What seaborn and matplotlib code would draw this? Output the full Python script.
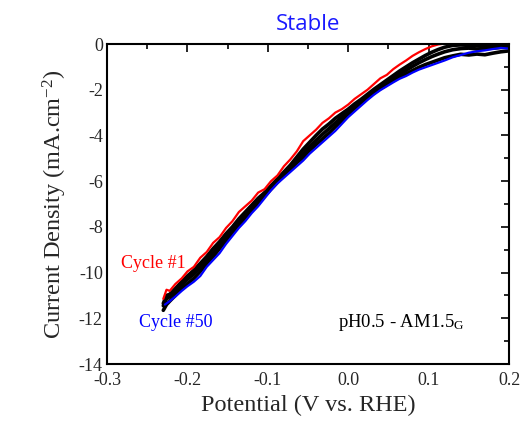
import matplotlib
matplotlib.use("Agg")
import matplotlib.pyplot as plt
import seaborn as sns
from matplotlib.ticker import MultipleLocator

# ---- data ----
pot = [-0.230, -0.226, -0.222, -0.215, -0.207, -0.200,
       -0.192, -0.184, -0.176, -0.168, -0.160, -0.152, -0.144, -0.136, -0.128, -0.120,
       -0.112, -0.104, -0.096, -0.088, -0.080, -0.072, -0.064, -0.056, -0.048, -0.040,
       -0.032, -0.024, -0.016, -0.008, 0.000, 0.008, 0.016, 0.024, 0.032, 0.040,
       0.048, 0.056, 0.064, 0.072, 0.080, 0.088, 0.096, 0.104, 0.112,
       0.120, 0.130, 0.140, 0.150, 0.160, 0.170, 0.180, 0.190, 0.200]

cycle1 = [-11.15, -10.75, -10.80, -10.50, -10.25, -9.95,
          -9.75, -9.35, -9.10, -8.70, -8.45, -8.05, -7.75, -7.35, -7.10, -6.85,
          -6.50, -6.35, -6.00, -5.75, -5.35, -5.05, -4.70, -4.25, -4.00, -3.75,
          -3.45, -3.25, -3.00, -2.85, -2.65, -2.40, -2.20, -2.00, -1.75, -1.50,
          -1.35, -1.10, -0.90, -0.72, -0.52, -0.36, -0.22, -0.10, -0.02,
          0.02, 0.05, 0.04, 0.05, 0.03, 0.04, 0.03, 0.02, 0.03]

mid_a = [-11.35, -11.00, -10.95, -10.70, -10.40, -10.15,
         -9.90, -9.60, -9.30, -8.95, -8.65, -8.30, -8.00, -7.65, -7.35, -7.05,
         -6.75, -6.50, -6.20, -5.90, -5.60, -5.30, -4.95, -4.60, -4.30, -4.00,
         -3.72, -3.50, -3.25, -3.05, -2.85, -2.62, -2.42, -2.20, -1.98, -1.78,
         -1.58, -1.38, -1.18, -1.00, -0.82, -0.66, -0.50, -0.36, -0.24,
         -0.14, -0.06, -0.04, -0.06, -0.08, -0.10, -0.12, -0.10, -0.08]

mid_c = [-11.45, -11.15, -11.05, -10.85, -10.55, -10.30,
         -10.05, -9.75, -9.45, -9.15, -8.80, -8.45, -8.15, -7.80, -7.50, -7.20,
         -6.90, -6.60, -6.30, -6.00, -5.70, -5.40, -5.10, -4.80, -4.50, -4.22,
         -3.95, -3.70, -3.45, -3.20, -2.98, -2.75, -2.52, -2.30, -2.08, -1.88,
         -1.68, -1.50, -1.32, -1.15, -0.98, -0.82, -0.68, -0.55, -0.44,
         -0.34, -0.25, -0.20, -0.18, -0.22, -0.20, -0.18, -0.15, -0.14]

mid_b = [-11.65, -11.40, -11.25, -11.00, -10.70, -10.50,
         -10.25, -9.95, -9.60, -9.30, -8.95, -8.60, -8.25, -7.95, -7.60, -7.30,
         -6.95, -6.65, -6.35, -6.05, -5.75, -5.50, -5.20, -4.95, -4.65, -4.40,
         -4.15, -3.90, -3.62, -3.35, -3.08, -2.82, -2.58, -2.35, -2.15, -1.95,
         -1.78, -1.60, -1.45, -1.30, -1.16, -1.02, -0.90, -0.80, -0.70,
         -0.60, -0.52, -0.45, -0.48, -0.44, -0.47, -0.40, -0.34, -0.30]

pot50 = [-0.228, -0.222, -0.215, -0.207, -0.200,
         -0.192, -0.184, -0.176, -0.168, -0.160, -0.152, -0.144, -0.136, -0.128, -0.120,
         -0.112, -0.104, -0.096, -0.088, -0.080, -0.072, -0.064, -0.056, -0.048, -0.040,
         -0.032, -0.024, -0.016, -0.008, 0.000, 0.008, 0.016, 0.024, 0.032, 0.040,
         0.048, 0.056, 0.064, 0.072, 0.080, 0.088, 0.096, 0.104, 0.112,
         0.120, 0.130, 0.140, 0.150, 0.160, 0.170, 0.180, 0.190, 0.200]

cycle50 = [-11.40, -11.25, -11.05, -10.80, -10.60,
           -10.40, -10.15, -9.75, -9.45, -9.15, -8.75, -8.40, -8.05, -7.75, -7.40,
           -7.10, -6.75, -6.40, -6.10, -5.85, -5.60, -5.35, -5.10, -4.80, -4.55,
           -4.30, -4.05, -3.80, -3.50, -3.20, -2.95, -2.70, -2.45, -2.22, -2.02,
           -1.85, -1.68, -1.52, -1.40, -1.25, -1.12, -1.02, -0.92, -0.82,
           -0.72, -0.58, -0.48, -0.38, -0.32, -0.28, -0.22, -0.17, -0.20]

xticks = [-0.3, -0.2, -0.1, 0.0, 0.1, 0.2]
yticks = [0, -2, -4, -6, -8, -10, -12, -14]

# ---- figure ----
sns.set_style("white")
plt.rcParams["font.family"] = ["Liberation Serif", "DejaVu Serif"]
plt.rcParams["mathtext.fontset"] = "custom"
plt.rcParams["mathtext.rm"] = "Liberation Serif"
plt.rcParams["mathtext.it"] = "Liberation Serif:italic"
plt.rcParams["mathtext.bf"] = "Liberation Serif:bold"

fig = plt.figure(figsize=(5.29, 4.26), dpi=100)
ax = fig.add_axes([0.2023, 0.1455, 0.7599, 0.7512])

for ys in (mid_a, mid_c, mid_b):
    sns.lineplot(x=pot, y=ys, ax=ax, sort=False, estimator=None, color="black", lw=2.6)
sns.lineplot(x=pot, y=cycle1, ax=ax, sort=False, estimator=None, color="#ff0000", lw=1.6)
sns.lineplot(x=pot50, y=cycle50, ax=ax, sort=False, estimator=None, color="#0000ff", lw=1.6)

ax.set_xlim(-0.3, 0.2)
ax.set_ylim(-14, 0)
ax.set_xticks(xticks)
ax.set_xticklabels([f"{t:.1f}" for t in xticks])
ax.set_yticks(yticks)
ax.set_yticklabels([f"{t:d}" for t in yticks])
ax.xaxis.set_minor_locator(MultipleLocator(0.05))
ax.yaxis.set_minor_locator(MultipleLocator(1))
ax.tick_params(which="both", direction="in", top=True, right=True, width=1.2,
               labelsize=13, color="black")
ax.tick_params(which="major", length=6)
ax.tick_params(which="minor", length=3.5)
ax.tick_params(axis="x", pad=6)
ax.tick_params(axis="y", pad=3)
for s in ax.spines.values():
    s.set_linewidth(1.5)
    s.set_color("black")

ax.set_xlabel("Potential (V vs. RHE)", fontsize=17.5, labelpad=4)
ax.set_ylabel("Current Density (mA.cm$^{-2}$)", fontsize=17.5, labelpad=7)
ax.set_title("Stable", color="#1a1aff", fontsize=16, family=["Open Sans", "DejaVu Sans"], pad=10)

ax.text(-0.283, -9.6, "Cycle #1", color="#ff0000", fontsize=13, va="center", ha="left")
ax.text(-0.260, -12.2, "Cycle #50", color="#0000ff", fontsize=13, va="center", ha="left")
ax.text(-0.013, -12.2, "pH0.5 - AM1.5$_{\\mathrm{G}}$", color="black", fontsize=13.5,
        va="center", ha="left")

fig.savefig("out.png", dpi=100)
